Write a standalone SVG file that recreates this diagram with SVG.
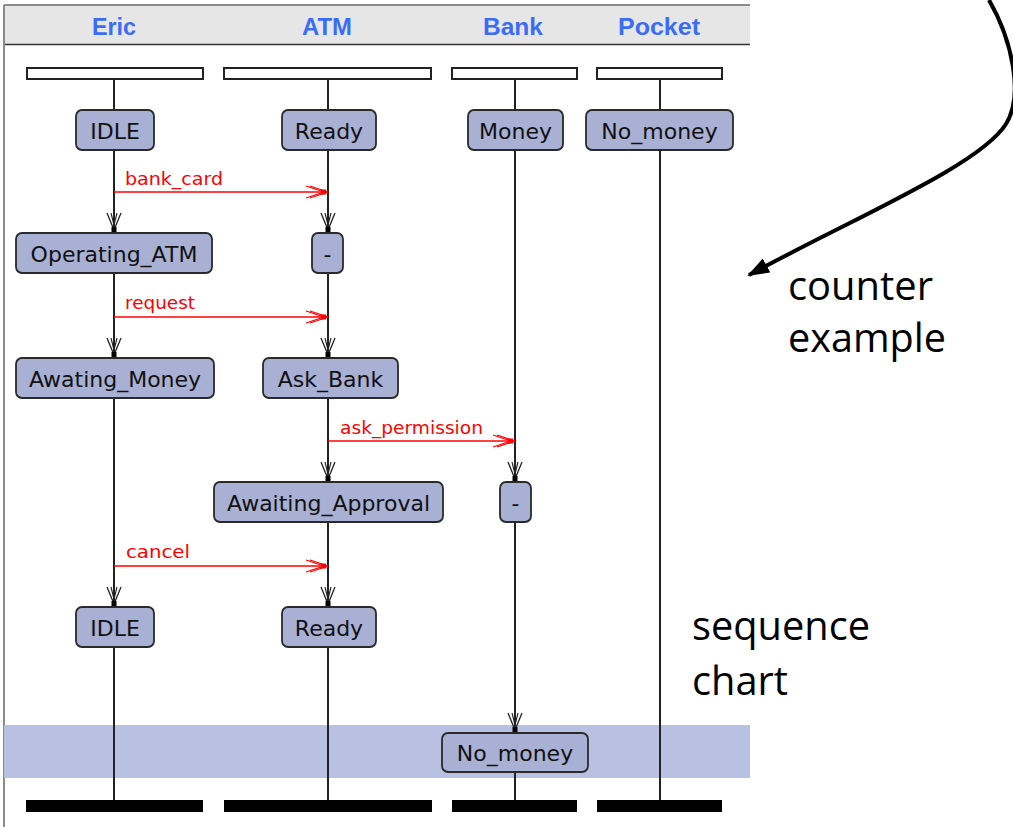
<svg xmlns="http://www.w3.org/2000/svg" xmlns:xlink="http://www.w3.org/1999/xlink" width="1013" height="827" viewBox="0 0 1013 827">
<style>
.hdr{font-family:"Liberation Sans",Arial,sans-serif;font-weight:bold;font-size:23px;fill:#3a6cf5;text-anchor:middle}
.node rect{fill:#a8b0d3;stroke:#2a2a2a;stroke-width:1.8}
.node text{font-family:"DejaVu Sans",sans-serif;font-size:22px;fill:#111;text-anchor:middle}
.top{fill:#fff;stroke:#222;stroke-width:2}
.bar{fill:#000}
.life{stroke:#222;stroke-width:2;fill:none}
.msg{stroke:#ff0000;stroke-width:1.6;fill:none}
.mlbl{font-family:"DejaVu Sans",sans-serif;font-size:17px;fill:#ff0000}
.note{font-family:"Open Sans","Liberation Sans",sans-serif;font-size:40px;fill:#000}
</style>
<defs>
<g id="ahR">
<polyline points="-22,-6 -4,0 -22,6" fill="none" stroke="#ff0000" stroke-width="1.2"/>
<polyline points="-18,-6 0,0 -18,6" fill="none" stroke="#ff0000" stroke-width="1.2"/>
<rect x="-7" y="-2.5" width="5" height="5" fill="#ff0000"/>
</g>
<g id="ahD">
<polyline points="-7,-20 0,-3 7,-20" fill="none" stroke="#222" stroke-width="1.3"/>
<polyline points="-3,-20 0,-8 3,-20" fill="none" stroke="#222" stroke-width="1.1"/>
<rect x="-2.5" y="-6" width="5" height="5" fill="#000"/>
</g>
<marker id="bigArrow" markerUnits="userSpaceOnUse" markerWidth="22" markerHeight="16" viewBox="0 0 22 16" refX="20" refY="8" orient="auto">
<path d="M0,0 L22,8 L0,16 z" fill="#000"/>
</marker>
</defs>

<g id="panel">
<rect x="4" y="5" width="746" height="822" fill="#fff"/>
<rect x="4" y="6" width="746" height="38" fill="#e6e6e6"/>
<line x1="4" y1="5" x2="750" y2="5" stroke="#8a8a8a" stroke-width="2"/>
<line x1="4" y1="44.5" x2="750" y2="44.5" stroke="#333" stroke-width="1.5"/>
<line x1="4" y1="5" x2="4" y2="827" stroke="#8a8a8a" stroke-width="2"/>
<text class="hdr" x="114" y="35" textLength="44" lengthAdjust="spacingAndGlyphs">Eric</text>
<text class="hdr" x="327" y="35" textLength="50" lengthAdjust="spacingAndGlyphs">ATM</text>
<text class="hdr" x="513" y="35" textLength="60" lengthAdjust="spacingAndGlyphs">Bank</text>
<text class="hdr" x="659" y="35" textLength="82" lengthAdjust="spacingAndGlyphs">Pocket</text>
<rect x="4" y="725" width="746" height="53" fill="#b8c1e1"/>
</g>

<g id="connectors">
<line class="life" x1="114" y1="79" x2="114" y2="800"/>
<line class="life" x1="328" y1="79" x2="328" y2="800"/>
<line class="life" x1="515" y1="79" x2="515" y2="800"/>
<line class="life" x1="660" y1="79" x2="660" y2="800"/>
<use xlink:href="#ahD" x="114" y="233"/>
<use xlink:href="#ahD" x="114" y="358"/>
<use xlink:href="#ahD" x="114" y="607"/>
<use xlink:href="#ahD" x="328" y="233"/>
<use xlink:href="#ahD" x="328" y="358"/>
<use xlink:href="#ahD" x="328" y="482"/>
<use xlink:href="#ahD" x="328" y="607"/>
<use xlink:href="#ahD" x="515" y="482"/>
<use xlink:href="#ahD" x="515" y="733"/>
<line class="msg" x1="114" y1="192" x2="328" y2="192"/>
<use xlink:href="#ahR" x="328" y="192"/>
<text class="mlbl" x="125" y="185" textLength="98" lengthAdjust="spacingAndGlyphs">bank_card</text>
<line class="msg" x1="114" y1="317" x2="328" y2="317"/>
<use xlink:href="#ahR" x="328" y="317"/>
<text class="mlbl" x="125" y="309" textLength="70" lengthAdjust="spacingAndGlyphs">request</text>
<line class="msg" x1="328" y1="441" x2="515" y2="441"/>
<use xlink:href="#ahR" x="515" y="441"/>
<text class="mlbl" x="340" y="434" textLength="143" lengthAdjust="spacingAndGlyphs">ask_permission</text>
<line class="msg" x1="114" y1="566" x2="328" y2="566"/>
<use xlink:href="#ahR" x="328" y="566"/>
<text class="mlbl" x="126" y="558" textLength="64" lengthAdjust="spacingAndGlyphs">cancel</text>
<path d="M 989,0 C 1012,40 1024,95 1006,124 C 980,165 860,215 749,275" fill="none" stroke="#000" stroke-width="4" marker-end="url(#bigArrow)"/>
</g>

<g id="heads">
<rect class="top" x="27" y="68" width="176" height="11"/>
<rect class="top" x="224" y="68" width="207" height="11"/>
<rect class="top" x="452" y="68" width="125" height="11"/>
<rect class="top" x="597" y="68" width="125" height="11"/>
<rect class="bar" x="26" y="800" width="177" height="12"/>
<rect class="bar" x="224" y="800" width="208" height="12"/>
<rect class="bar" x="452" y="800" width="125" height="12"/>
<rect class="bar" x="597" y="800" width="125" height="12"/>
</g>

<g id="n-eric-idle" class="node"><rect x="76" y="110" width="78" height="40" rx="6"/><text x="115" y="139">IDLE</text></g>
<g id="n-atm-ready" class="node"><rect x="282" y="110" width="94" height="40" rx="6"/><text x="329" y="139">Ready</text></g>
<g id="n-bank-money" class="node"><rect x="468" y="110" width="95" height="40" rx="6"/><text x="515.5" y="139">Money</text></g>
<g id="n-pocket-nomoney" class="node"><rect x="586" y="110" width="147" height="40" rx="6"/><text x="659.5" y="139">No_money</text></g>
<g id="n-eric-operating" class="node"><rect x="16" y="233" width="196" height="40" rx="6"/><text x="114" y="262">Operating_ATM</text></g>
<g id="n-atm-dash1" class="node"><rect x="312" y="233" width="31" height="40" rx="6"/><text x="327.5" y="262">-</text></g>
<g id="n-eric-awating" class="node"><rect x="16" y="358" width="198" height="40" rx="6"/><text x="115" y="387">Awating_Money</text></g>
<g id="n-atm-askbank" class="node"><rect x="263" y="358" width="135" height="40" rx="6"/><text x="330.5" y="387">Ask_Bank</text></g>
<g id="n-atm-awaiting" class="node"><rect x="214" y="482" width="229" height="40" rx="6"/><text x="328.5" y="511">Awaiting_Approval</text></g>
<g id="n-bank-dash" class="node"><rect x="500" y="482" width="31" height="40" rx="6"/><text x="515.5" y="511">-</text></g>
<g id="n-eric-idle2" class="node"><rect x="76" y="607" width="78" height="40" rx="6"/><text x="115" y="636">IDLE</text></g>
<g id="n-atm-ready2" class="node"><rect x="282" y="607" width="94" height="40" rx="6"/><text x="329" y="636">Ready</text></g>
<g id="n-bank-nomoney" class="node"><rect x="442" y="733" width="146" height="39" rx="6"/><text x="515" y="761">No_money</text></g>

<g id="notes">
<text class="note" x="788" y="300" textLength="145" lengthAdjust="spacingAndGlyphs">counter</text>
<text class="note" x="788" y="352" textLength="158" lengthAdjust="spacingAndGlyphs">example</text>
<text class="note" x="692" y="640" textLength="178" lengthAdjust="spacingAndGlyphs">sequence</text>
<text class="note" x="692" y="695" textLength="96" lengthAdjust="spacingAndGlyphs">chart</text>
</g>
</svg>
